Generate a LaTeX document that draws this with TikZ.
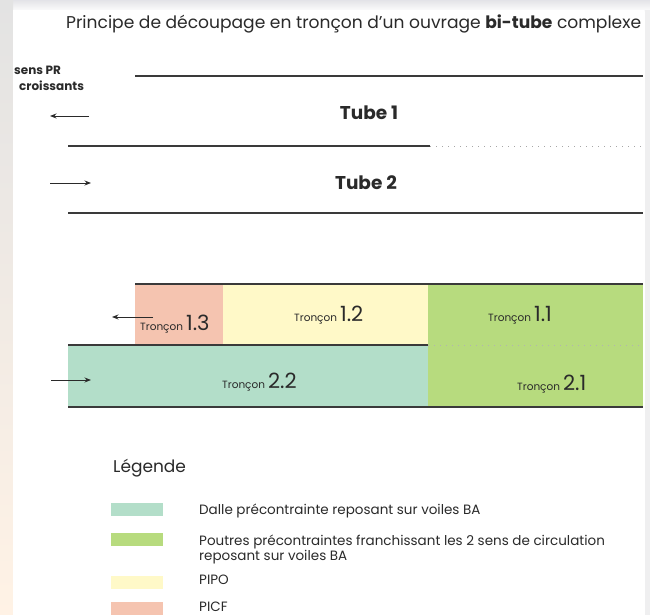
\documentclass[tikz,border=0pt]{standalone}
\usepackage{fontspec}
\setmainfont{Poppins}
\usetikzlibrary{arrows.meta}
\definecolor{salmon}{HTML}{F5C4B0}
\definecolor{pyellow}{HTML}{FFF9C8}
\definecolor{pgreen}{HTML}{B7DB7E}
\definecolor{pteal}{HTML}{B3DEC9}
\definecolor{ink}{HTML}{3A3A3A}
\definecolor{txt}{HTML}{2A2A2A}
\newcommand{\tronc}[1]{{\fontsize{10.5}{12}\selectfont Tronçon}\hspace{3pt}{\fontsize{21}{22}\selectfont #1}}
\tikzset{
  road/.style={draw=ink, line width=1.6pt},
  dotline/.style={draw=gray!70, line width=0.9pt, dash pattern=on 1pt off 5pt},
  dirarrow/.style={draw=txt, line width=0.9pt, -{Stealth[length=6.5pt,width=5pt]}},
  lbl/.style={inner sep=0pt, text=txt},
  tube/.style={lbl, anchor=base, font=\fontsize{18.5}{20}\selectfont\bfseries},
  legtxt/.style={inner sep=0pt, text=txt, anchor=base west, font=\fontsize{13.5}{15}\selectfont},
  swatch/.style={inner sep=0pt, minimum width=52pt, minimum height=13pt, anchor=north west}
}
\begin{document}
\begin{tikzpicture}[x=1pt,y=-1pt]
\useasboundingbox (0,0) rectangle (650,615);
% background
\shade[top color=blue!8!gray!20, bottom color=white] (0,0) rectangle (650,12);
\shade[top color=gray!22, bottom color=orange!10!white] (0,0) rectangle (13,615);
\fill[white] (13,10) rectangle (644,615);
\fill[blue!5!gray!12] (645,10) rectangle (650,615);

% title
\node[lbl, anchor=base west, font=\fontsize{17.1}{20}\selectfont] (title) at (66,29)
  {Principe de découpage en tronçon d'un ouvrage \textbf{bi-tube} complexe};

% direction label
\node[lbl, anchor=base west, font=\fontsize{12}{14}\selectfont\bfseries] (sens) at (14,75) {sens PR};
\node[lbl, anchor=base west, font=\fontsize{12}{14}\selectfont\bfseries] (crois) at (19,91) {croissants};

% tubes schematic
\coordinate (t1a) at (135,76); \coordinate (t1b) at (643,76);
\coordinate (m1a) at (68,146); \coordinate (m1b) at (430,146); \coordinate (m1c) at (642,146);
\coordinate (b1a) at (68,213); \coordinate (b1b) at (643,213);
\draw[road, line width=1.2pt] (t1a) -- (t1b);
\draw[road, line width=1.2pt] (m1a) -- (m1b);
\draw[dotline] (m1b) -- (m1c);
\draw[road, line width=1.2pt] (b1a) -- (b1b);
\coordinate (a1s) at (89,116); \coordinate (a1e) at (50,116);
\coordinate (a2s) at (50,183); \coordinate (a2e) at (91,183);
\draw[dirarrow] (a1s) -- (a1e);
\draw[dirarrow] (a2s) -- (a2e);
\node[tube] (tube1) at (369,120) {Tube 1};
\node[tube] (tube2) at (366,189) {Tube 2};

% blocks
\fill[salmon] (135,284) rectangle (223,345);
\fill[pyellow] (223,284) rectangle (428,345);
\fill[pgreen] (428,284) rectangle (643,407);
\fill[pteal] (68,345) rectangle (428,407);
\coordinate (k1a) at (135,284); \coordinate (k1b) at (643,284);
\coordinate (k2a) at (68,345); \coordinate (k2b) at (428,345); \coordinate (k2c) at (642,345);
\coordinate (k3a) at (68,407); \coordinate (k3b) at (643,407);
\draw[road] (k1a) -- (k1b);
\draw[road] (k2a) -- (k2b);
\draw[dotline, draw=gray!60] (k2b) -- (k2c);
\draw[road] (k3a) -- (k3b);
\coordinate (a3s) at (153,317); \coordinate (a3e) at (112,317);
\coordinate (a4s) at (51,380); \coordinate (a4e) at (91,380);
\draw[dirarrow] (a3s) -- (a3e);
\draw[dirarrow] (a4s) -- (a4e);

\node[lbl, anchor=base west] (tr13) at (140,330) {\tronc{1.3}};
\node[lbl, anchor=base west] (tr12) at (294,321) {\tronc{1.2}};
\node[lbl, anchor=base west] (tr11) at (488,321) {\tronc{1.1}};
\node[lbl, anchor=base west] (tr22) at (222,388) {\tronc{2.2}};
\node[lbl, anchor=base west] (tr21) at (517,390) {\tronc{2.1}};

% legend
\node[lbl, anchor=base west, font=\fontsize{17}{20}\selectfont] (leg) at (113,472) {Légende};
\node[swatch, fill=pteal] (s1) at (111,503) {};
\node[swatch, fill=pgreen] (s2) at (111,533) {};
\node[swatch, fill=pyellow] (s3) at (111,576) {};
\node[swatch, fill=salmon] (s4) at (111,602) {};
\node[legtxt] (l1) at (199,514) {Dalle précontrainte reposant sur voiles BA};
\node[legtxt] (l2) at (199,545) {Poutres précontraintes franchissant les 2 sens de circulation};
\node[legtxt] (l2b) at (199,560) {reposant sur voiles BA};
\node[legtxt] (l3) at (199,584) {PIPO};
\node[legtxt] (l4) at (199,611) {PICF};
\end{tikzpicture}
\end{document}
